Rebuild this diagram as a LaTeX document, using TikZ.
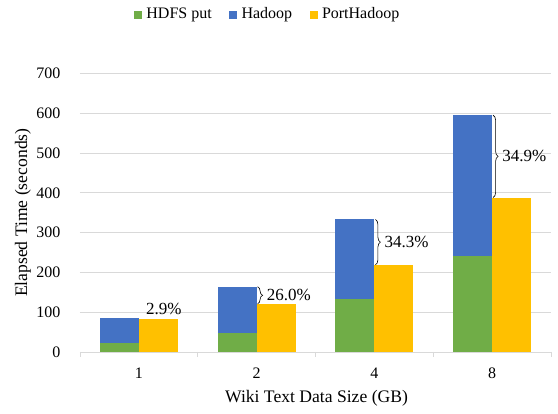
\documentclass[tikz,border=0pt]{standalone}
\usepackage{fontspec}
\setmainfont{Liberation Serif}
\usepackage{tikz}
\usetikzlibrary{positioning,decorations.pathreplacing}

\definecolor{putgreen}{HTML}{70AD47}
\definecolor{hadblue}{HTML}{4472C4}
\definecolor{portyellow}{HTML}{FFC000}
\definecolor{gridgray}{HTML}{D9D9D9}

\tikzset{
  gridline/.style={draw=gridgray, line width=0.8pt},
  legkey/.style={minimum size=8pt, inner sep=0pt},
  legtext/.style={inner sep=0pt},
  gainbrace/.style={decorate, decoration={brace, amplitude=5pt, raise=1pt}, line width=0.6pt},
  gainlabel/.style={inner sep=0pt, font=\fontsize{17}{20}\selectfont},
  axistitle/.style={font=\fontsize{17.6}{21}\selectfont}
}

\begin{document}
\begin{tikzpicture}[x=1pt, y=0.398pt, font=\fontsize{16}{19}\selectfont]
  \useasboundingbox (-80,-62pt) rectangle (478,352pt);

  % grid and axis
  \foreach \v in {100,200,...,700}
    \draw [gridline] (0,\v) -- (471,\v);
  \draw [gridline] (0,0) -- (471,0);
  \foreach \t in {0,117.75,235.5,353.25,471}
    \draw [gridline] (\t,0) -- (\t,-5pt);
  \foreach \v in {0,100,...,700}
    \node [anchor=east] (ytick\v) at (-16,\v) {\v};

  % stacked bars: put + hadoop, then porthadoop
  \foreach \c/\size/\put/\had/\port [count=\i] in
      {58.9/1/23/85/82, 176.6/2/47/164/121, 294.4/4/133/333/219, 412.1/8/242/595/388} {
    \fill [putgreen] (\c-39,0) rectangle (\c,\put);
    \fill [hadblue] (\c-39,\put) rectangle (\c,\had);
    \fill [portyellow] (\c,0) rectangle (\c+39,\port);
    \coordinate (had\i) at (\c,\had);
    \coordinate (port\i) at (\c,\port);
    \node (xtick\i) at (\c,-21pt) {\size};
  }

  % gains
  \node [gainlabel, anchor=west] (gain1) at (66,108) {2.9\%};
  \draw [gainbrace] (had2) -- (port2) node [midway, right=10pt, gainlabel] (gain2) {26.0\%};
  \draw [gainbrace] (had3) -- (port3) node [midway, right=10pt, gainlabel] (gain3) {34.3\%};
  \draw [gainbrace] (had4) -- (port4) node [midway, right=10pt, gainlabel] (gain4) {34.9\%};

  % titles
  \node [axistitle, rotate=90] (ytitle) at (-57,350) {Elapsed Time (seconds)};
  \node [axistitle] (xtitle) at (236.5,-46pt) {Wiki Text Data Size (GB)};

  % legend
  \node [legkey, fill=putgreen] (keyput) at (58,337pt) {};
  \node [legtext, right=4pt of keyput] (txtput) {HDFS put};
  \node [legkey, fill=hadblue, right=17pt of txtput] (keyhad) {};
  \node [legtext, right=4pt of keyhad] (txthad) {Hadoop};
  \node [legkey, fill=portyellow, right=17pt of txthad] (keyport) {};
  \node [legtext, right=4pt of keyport] (txtport) {PortHadoop};
\end{tikzpicture}
\end{document}
